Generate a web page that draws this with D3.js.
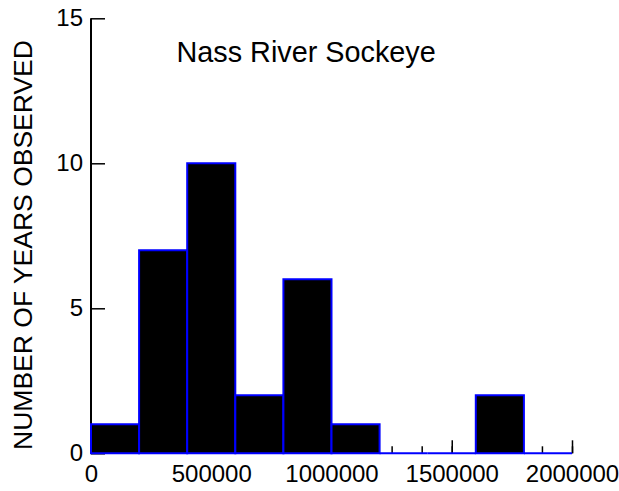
<!DOCTYPE html>
<html>
<head>
<meta charset="utf-8">
<script src="https://cdn.jsdelivr.net/npm/d3@7/dist/d3.min.js"></script>
<style>
  html, body { margin: 0; padding: 0; background: #fff; }
  svg { display: block; }
  text { font-family: "Liberation Sans", Arial, Helvetica, sans-serif; fill: #000; }
</style>
</head>
<body>
<svg id="chart" width="619" height="491"></svg>
<script>
// Histogram of annual Nass River sockeye counts
const title = "Nass River Sockeye";
const yLabel = "NUMBER OF YEARS OBSERVED";
const binStarts = [0, 200000, 400000, 600000, 800000, 1000000, 1200000, 1400000, 1600000, 1800000];
const binWidth = 200000;
const counts = [1, 7, 10, 2, 6, 1, 0, 0, 2, 0];
const xTickValues = [0, 500000, 1000000, 1500000, 2000000];
const xMinorStep = 125000;
const yTickValues = [0, 5, 10, 15];

const svg = d3.select("#chart");
const plotLeft = 91, plotRight = 572, plotTop = 18.3, plotBottom = 453.3;

const x = d3.scaleLinear().domain([0, 2000000]).range([plotLeft, plotRight]);
const y = d3.scaleLinear().domain([0, 15]).range([plotBottom, plotTop]);

const bins = binStarts.map((s, i) => ({ start: s, end: s + binWidth, count: counts[i] }));

// minor and major ticks along the x axis, pointing up into the plot
const minorVals = d3.range(0, 2000000 + 1, xMinorStep);
svg.append("g")
  .attr("transform", `translate(0,${plotBottom})`)
  .call(d3.axisTop(x).tickValues(minorVals).tickSize(7).tickFormat(""))
  .call(g => g.select(".domain").remove())
  .call(g => g.selectAll("line").attr("stroke", "#000").attr("stroke-width", 1.5));

svg.append("g")
  .attr("transform", `translate(0,${plotBottom})`)
  .call(d3.axisTop(x).tickValues(xTickValues).tickSize(13).tickFormat(""))
  .call(g => g.select(".domain").remove())
  .call(g => g.selectAll("line").attr("stroke", "#000").attr("stroke-width", 1.5));

// x tick labels below the baseline
svg.append("g")
  .attr("transform", `translate(0,${plotBottom})`)
  .call(d3.axisBottom(x).tickValues(xTickValues).tickSize(0).tickPadding(12).tickFormat(d3.format("d")))
  .call(g => g.select(".domain").remove())
  .call(g => g.selectAll("text").attr("font-size", 24).attr("font-family", "Liberation Sans, Arial, sans-serif").attr("fill", "#000"));

// y axis: line, inward ticks, labels on the left
svg.append("g")
  .attr("transform", `translate(${plotLeft},0)`)
  .call(d3.axisRight(y).tickValues(yTickValues).tickSize(14).tickFormat(""))
  .call(g => g.select(".domain").attr("d", `M0,${y(15)}V${y(0)}`).attr("stroke", "#000").attr("stroke-width", 2))
  .call(g => g.selectAll("line").attr("stroke", "#000").attr("stroke-width", 1.5));

svg.append("g")
  .attr("transform", `translate(${plotLeft},0)`)
  .call(d3.axisLeft(y).tickValues(yTickValues).tickSize(0).tickPadding(8).tickFormat(d3.format("d")))
  .call(g => g.select(".domain").remove())
  .call(g => g.selectAll("text").attr("font-size", 24).attr("font-family", "Liberation Sans, Arial, sans-serif").attr("fill", "#000"));

// histogram bars, each outlined in blue; empty bins collapse to a line on the baseline
svg.append("g")
  .selectAll("path")
  .data(bins)
  .join("path")
  .attr("d", d => {
    const x0 = x(d.start), x1 = x(d.end), y0 = y(0), y1 = y(d.count);
    return d.count > 0
      ? `M${x0},${y0}V${y1}H${x1}V${y0}Z`
      : `M${x0},${y0}H${x1}`;
  })
  .attr("fill", d => d.count > 0 ? "#000" : "none")
  .attr("stroke", "#0000ff")
  .attr("stroke-width", 2);

// title inside the plot area
svg.append("text")
  .attr("x", 176.5)
  .attr("y", 62)
  .attr("font-size", 28.8)
  .text(title);

// rotated y-axis label
svg.append("text")
  .attr("transform", "translate(32,245) rotate(-90)")
  .attr("text-anchor", "middle")
  .attr("font-size", 26.5)
  .text(yLabel);
</script>
</body>
</html>
